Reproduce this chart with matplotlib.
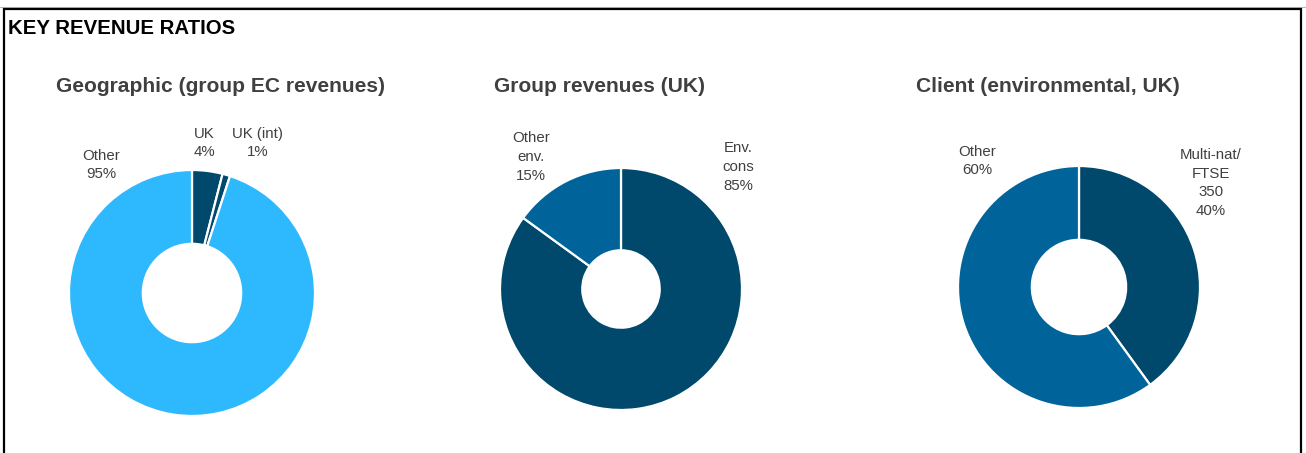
import matplotlib
matplotlib.use("Agg")
import matplotlib.pyplot as plt
from matplotlib.lines import Line2D

plt.rcParams['font.family'] = ['Liberation Sans', 'DejaVu Sans']

# ---------------- data ----------------
header = "KEY REVENUE RATIOS"

geo_title = "Geographic (group EC revenues)"
geo_labels = ["UK", "UK (int)", "Other"]
geo_values = [4, 1, 95]

grp_title = "Group revenues (UK)"
grp_labels = ["Env.\ncons", "Other\nenv."]
grp_values = [85, 15]

cli_title = "Client (environmental, UK)"
cli_labels = ["Multi-nat/\nFTSE\n350", "Other"]
cli_values = [40, 60]

# ---------------- styling ----------------
LIGHT = "#2EB9FF"
NAVY = "#00496D"
MID = "#00649B"
TXT = "#404040"

W, H = 1306, 453
fig = plt.figure(figsize=(W / 100, H / 100), dpi=100)
ax = fig.add_axes([0, 0, 1, 1])
ax.set_xlim(0, W)
ax.set_ylim(0, H)
ax.axis("off")


def Y(y):
    return H - y


# frame
ax.add_line(Line2D([0, W], [Y(6.5), Y(6.5)], color="#b8b8b8", lw=0.8))
ax.add_line(Line2D([4, 4, 1301, 1301], [0, Y(9), Y(9), 0], color="black", lw=1.6,
                   solid_joinstyle="miter"))

ax.text(7.5, Y(34.5), header, fontsize=14.7, fontweight="bold", color="black",
        ha="left", va="baseline")

charts = [
    dict(title=geo_title, tx=221, labels=geo_labels, values=geo_values,
         colors=[NAVY, NAVY, LIGHT], cx=192, cy=293, r=123, hole=0.40,
         lpos=[(204, 143), (258, 143), (101, 165)]),
    dict(title=grp_title, tx=599, labels=grp_labels, values=grp_values,
         colors=[NAVY, MID], cx=621, cy=289, r=121, hole=0.32,
         lpos=[(738, 167), (531, 157)]),
    dict(title=cli_title, tx=1048, labels=cli_labels, values=cli_values,
         colors=[NAVY, MID], cx=1079, cy=287, r=121, hole=0.39,
         lpos=[(1211, 183), (977, 161)]),
]

for c in charts:
    ax.text(c["tx"], Y(92), c["title"], fontsize=15.1, fontweight="bold",
            color=TXT, ha="center", va="baseline")
    ax.pie(c["values"], colors=c["colors"], startangle=90, counterclock=False,
           center=(c["cx"], Y(c["cy"])), radius=c["r"], frame=True,
           wedgeprops=dict(width=c["r"] * (1 - c["hole"]), edgecolor="white",
                           linewidth=1.6))
    for lab, val, (lx, ly) in zip(c["labels"], c["values"], c["lpos"]):
        ax.text(lx, Y(ly), f"{lab}\n{val}%", fontsize=10.8, color=TXT,
                ha="center", va="center", linespacing=1.42)

ax.set_xlim(0, W)
ax.set_ylim(0, H)
ax.set_aspect("auto")
ax.axis("off")

fig.savefig("out.png", dpi=100)
